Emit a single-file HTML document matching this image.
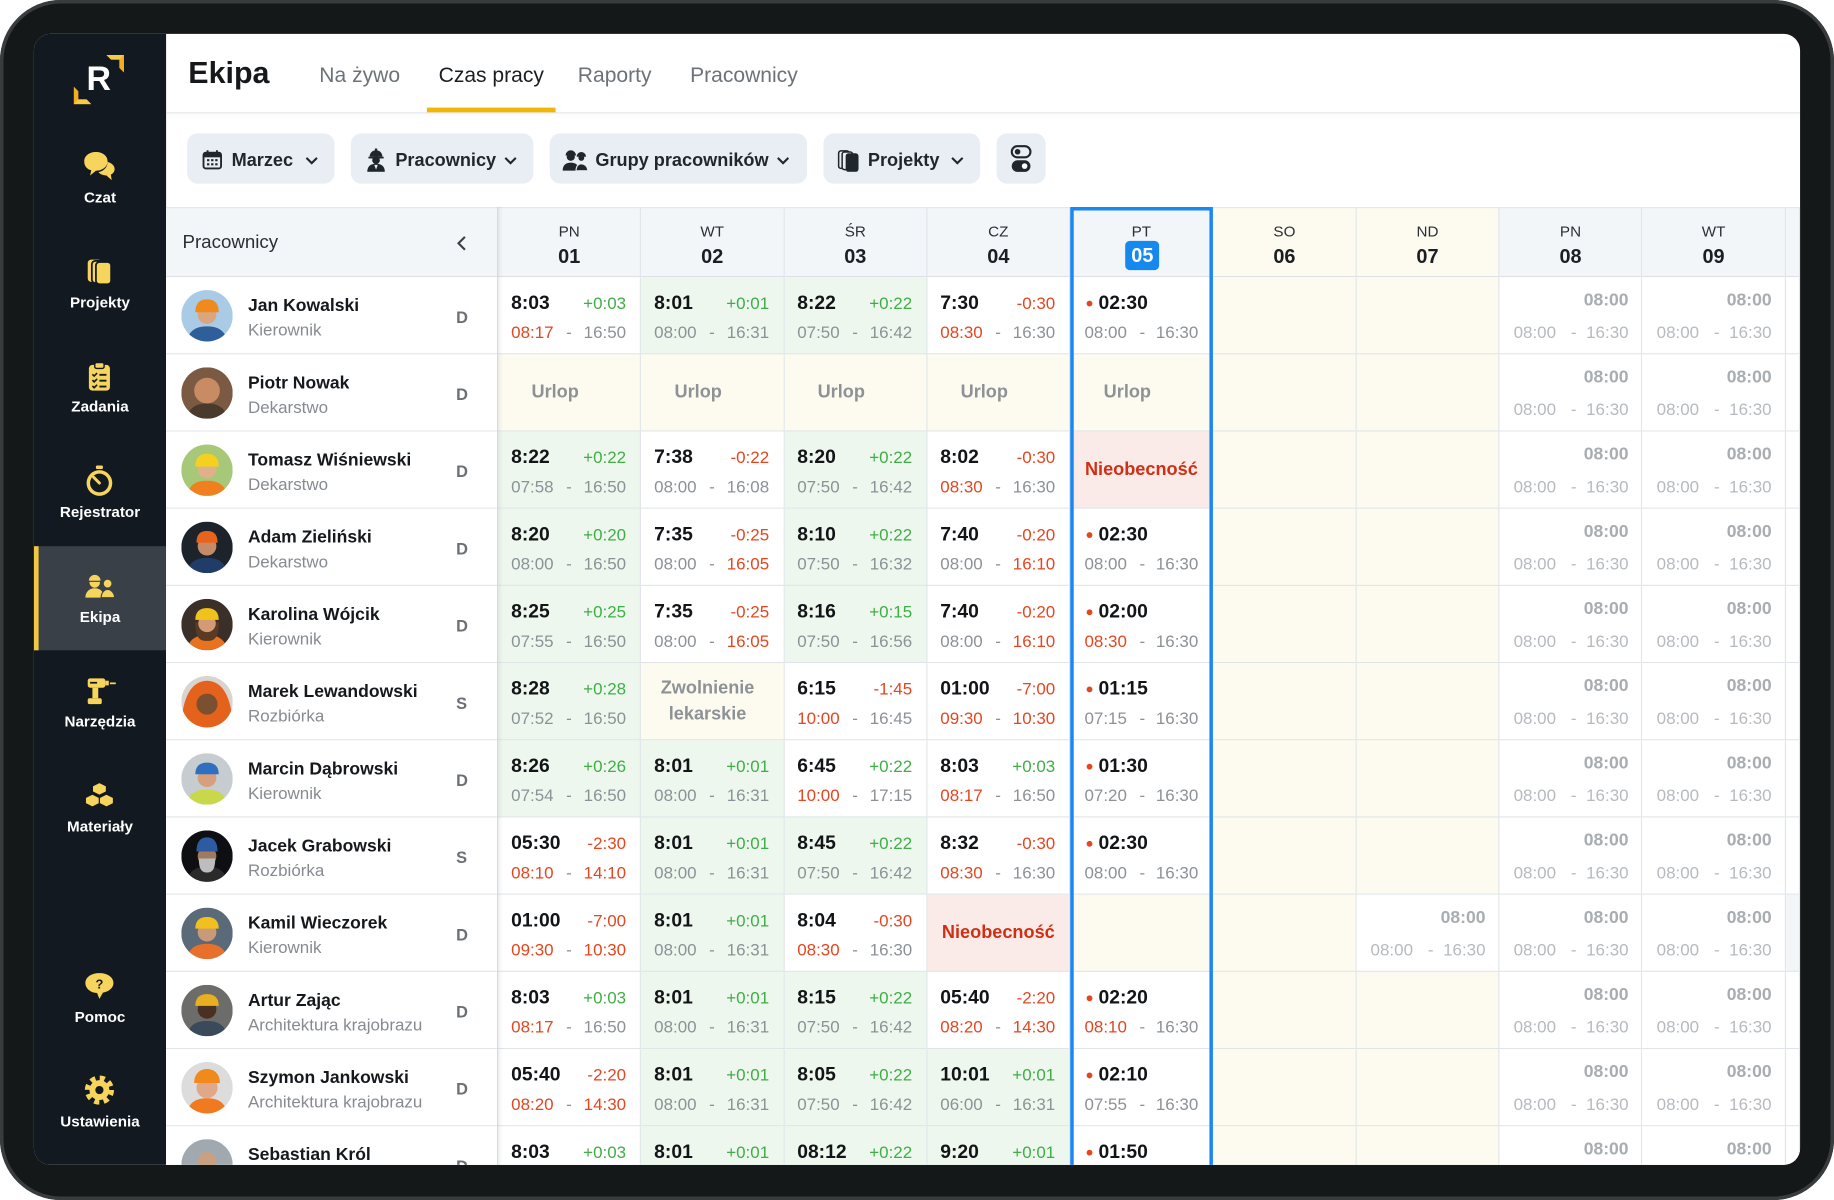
<!DOCTYPE html>
<html><head><meta charset="utf-8">
<style>
*{box-sizing:border-box}
body{margin:0;width:1834px;height:1200px;overflow:hidden;background:#fff;font-family:"Liberation Sans",sans-serif}
#w{position:absolute;left:0;top:0;width:1568px;height:1026px;transform:scale(1.16964,1.16959);transform-origin:0 0}
.ab{position:absolute}
.bz{position:absolute;left:0;top:0;width:1568px;height:1026px;border-radius:52px;background:#151819;box-shadow:inset 0 0 0 3px #383c3f}
.sc{position:absolute;left:29px;top:29px;width:1510px;height:967px;border-radius:14px;overflow:hidden;background:#fff}
.in{position:absolute;left:-29px;top:-29px;width:1568px;height:1026px}
.nl{position:absolute;left:29px;width:113px;text-align:center;color:#fff;font-size:13px;font-weight:700;line-height:16px}
.tab{position:absolute;top:53px;font-size:18px;line-height:22px;color:#6b7379}
.fb{position:absolute;top:114px;height:43px;border-radius:9px;background:#e8eef4}
.ft{position:absolute;top:128px;font-size:15.5px;font-weight:700;line-height:20px;color:#1f262d;white-space:nowrap}
.rw{position:absolute;left:142px;width:1397px;height:66px;display:grid;grid-template-columns:284px repeat(9,122.3px) 12.3px}
.hd{top:177px;height:60px}
.c{position:relative;border-right:1px solid #e1e5ea;border-bottom:1px solid #e1e5ea;background:#fff;overflow:hidden}
.hc{position:relative;border-right:1px solid #e1e5ea;border-bottom:1px solid #dde2e7;border-top:1px solid #e3e7eb;background:#f3f6f9;text-align:center}
.hc .dw{position:absolute;left:0;right:0;top:12px;font-size:13px;line-height:16px;color:#2a2f35}
.hc .dn{position:absolute;left:0;right:0;top:32px;font-size:17px;line-height:20px;font-weight:700;color:#1b1f23}
.g{background:#eef7ee}
.y{background:#fdfbef}
.k{background:#fbebe8}
.x{background:#f3f6f9}
.c b{position:absolute;left:11px;top:12px;font-size:16.5px;line-height:20px;font-weight:700;color:#121417;white-space:nowrap}
.c i{position:absolute;right:12px;top:13px;font-style:normal;font-size:14.5px;line-height:20px;white-space:nowrap}
.p{color:#3fae45}
.m{color:#e4461f}
.c span{position:absolute;top:38px;font-size:14.5px;line-height:20px;color:#8c9197;white-space:nowrap}
.c .a{left:11px}
.c .h{left:58px}
.c .z{right:12px}
.c .r{color:#e4461f}
.f b{left:24px}
.f b:before{content:"";position:absolute;left:-10px;top:8px;width:5px;height:5px;border-radius:50%;background:#e4461f}
.f .a{left:12px}
.f .h{left:59px}
.q i{color:#a8adb2;font-weight:700;top:10px;right:11px;font-size:15px}
.q span{color:#b6babf}
.q .a{left:12px}
.q .h{left:61px}
.q .z{right:11px}
.c em{position:absolute;left:0;right:24px;top:23px;text-align:center;font-style:normal;font-size:15.5px;font-weight:700;line-height:20px;color:#8d9297}
.c em.nb{right:0;color:#cf3015}
.c em.zw{top:11px;line-height:22px;right:8px}
.lc .av{position:absolute;left:13px;top:11px;width:44px;height:44px;border-radius:50%;overflow:hidden}
.av svg{display:block;width:44px;height:44px}
.lc .nm{position:absolute;left:70px;top:16px;font-size:15px;font-weight:700;line-height:18px;color:#15181c;white-space:nowrap}
.lc .rl{position:absolute;left:70px;top:37px;font-size:14.5px;line-height:18px;color:#868b91;white-space:nowrap}
.lc .lt{position:absolute;left:248px;top:25px;font-size:14px;font-weight:700;line-height:18px;color:#6b7077}
</style></head>
<body>
<div id="w">
<div class="bz"></div>
<div class="sc"><div class="in">

<!-- sidebar -->
<div class="ab" style="left:29px;top:29px;width:113px;height:967px;background:#121920"></div>
<div class="ab" style="left:29px;top:467px;width:113px;height:89px;background:#3a4047"></div>
<div class="ab" style="left:29px;top:467px;width:4px;height:89px;background:#f2c744"></div>

<svg class="ab" style="left:91px;top:47px" width="16" height="16" viewBox="0 0 16 16"><path d="M0 0H15V15L11 11V4H4Z" fill="#f2b01e"/><path d="M0 0H15L11 4H4Z" fill="#f7c94a"/></svg>
<svg class="ab" style="left:63px;top:74px" width="16" height="16" viewBox="0 0 16 16"><path d="M0 0L4 4V11H11L15 15H0Z" fill="#f2b01e"/><path d="M4 11H11L15 15H0Z" fill="#f7c94a"/></svg>
<div class="ab" style="left:74px;top:52px;font-size:29px;line-height:33px;font-weight:700;color:#fff">R</div>

<svg class="ab" style="left:71px;top:129px" width="28" height="26" viewBox="0 0 28 26"><path d="M11 1C5 1 1 4.5 1 9s3 7 6 7.6L6 21l5-4c5.5 0 10-3.5 10-8S17 1 11 1z" fill="#f7d45c"/><path d="M21 9.5c3.5.8 6 3.2 6 6 0 2.2-1.3 3.8-3.2 4.8L24.5 25l-4.5-4c-3 0-5.5-1-6.8-2.8 4.5-.8 7.8-4.5 7.8-8.7z" fill="#f7d45c"/></svg>
<div class="nl" style="top:161px">Czat</div>

<svg class="ab" style="left:73px;top:219px" width="24" height="26" viewBox="0 0 24 26"><rect x="2" y="3" width="12" height="19" rx="3" fill="#f7d45c"/><rect x="5.5" y="4" width="12" height="19" rx="3" fill="#f7d45c" stroke="#121920" stroke-width="1.5"/><rect x="9" y="5" width="13" height="19" rx="3" fill="#f7d45c" stroke="#121920" stroke-width="1.5"/></svg>
<div class="nl" style="top:251px">Projekty</div>

<svg class="ab" style="left:73px;top:309px" width="24" height="26" viewBox="0 0 24 26"><rect x="3" y="3" width="18" height="22" rx="3" fill="#f7d45c"/><rect x="8" y="1" width="8" height="5" rx="1.5" fill="#f7d45c" stroke="#121920" stroke-width="1.2"/><path d="M6 11l1.5 1.5L10 10M6 16l1.5 1.5L10 15M6 21l1.5 1.5L10 20" stroke="#121920" stroke-width="1.4" fill="none"/><path d="M12 11.5h6M12 16.5h6M12 21.5h6" stroke="#121920" stroke-width="1.6"/></svg>
<div class="nl" style="top:340px">Zadania</div>

<svg class="ab" style="left:72px;top:398px" width="26" height="27" viewBox="0 0 26 27"><rect x="10" y="0" width="6" height="3" rx="1" fill="#f7d45c"/><circle cx="13" cy="15" r="11" fill="#f7d45c"/><circle cx="13" cy="15" r="8" fill="#121920"/><path d="M13 15L8 10" stroke="#f7d45c" stroke-width="2.5" stroke-linecap="round"/></svg>
<div class="nl" style="top:430px">Rejestrator</div>

<svg class="ab" style="left:72px;top:490px" width="27" height="22" viewBox="0 0 27 22"><circle cx="9" cy="8" r="4.5" fill="#f7d45c"/><path d="M4 6.5a5 5 0 0 1 10 0z" fill="#f7d45c"/><path d="M4 7h10" stroke="#3a4047" stroke-width="1"/><path d="M1 21c0-5 3.5-8 8-8s8 3 8 8z" fill="#f7d45c"/><circle cx="20" cy="9" r="3.8" fill="#f7d45c" stroke="#3a4047" stroke-width="1"/><path d="M14.5 21c0-4 2.5-7 5.5-7s6 3 6 7z" fill="#f7d45c" stroke="#3a4047" stroke-width="1"/></svg>
<div class="nl" style="top:520px">Ekipa</div>

<svg class="ab" style="left:72px;top:578px" width="28" height="26" viewBox="0 0 28 26"><rect x="3" y="2" width="15" height="8" rx="2" fill="#f7d45c"/><rect x="18" y="4" width="3" height="4" fill="#f7d45c"/><rect x="22" y="5.5" width="5" height="1.5" fill="#f7d45c"/><rect x="7" y="10" width="5" height="9" fill="#f7d45c"/><rect x="3" y="19" width="12" height="5" rx="1.5" fill="#f7d45c"/><rect x="5" y="5" width="6" height="1.5" fill="#121920"/></svg>
<div class="nl" style="top:609px">Narzędzia</div>

<svg class="ab" style="left:72px;top:668px" width="26" height="24" viewBox="0 0 26 24"><path d="M13 1l6 3v5l-6 3-6-3V4z" fill="#f7d45c" stroke="#121920" stroke-width="1"/><path d="M7 11l6 3v5l-6 3-6-3v-5z" fill="#f7d45c" stroke="#121920" stroke-width="1"/><path d="M19 11l6 3v5l-6 3-6-3v-5z" fill="#f7d45c" stroke="#121920" stroke-width="1"/></svg>
<div class="nl" style="top:699px">Materiały</div>

<svg class="ab" style="left:72px;top:831px" width="26" height="24" viewBox="0 0 26 24"><path d="M13 1C6 1 1 4.5 1 9.5S6 18 11 18l2 5 3-5.3c5-.8 9-4 9-8.2C25 4.5 20 1 13 1z" fill="#f7d45c"/><text x="13" y="14" font-size="11" font-weight="700" text-anchor="middle" fill="#121920" font-family="Liberation Sans">?</text></svg>
<div class="nl" style="top:862px">Pomoc</div>

<svg class="ab" style="left:72px;top:919px" width="26" height="26" viewBox="0 0 26 26"><circle cx="13" cy="13" r="10" fill="none" stroke="#f7d45c" stroke-width="5" stroke-dasharray="4.2 3.65"/><circle cx="13" cy="13" r="8.5" fill="#f7d45c"/><circle cx="13" cy="13" r="3.5" fill="#121920"/></svg>
<div class="nl" style="top:951px">Ustawienia</div>

<!-- header -->
<div class="ab" style="left:161px;top:46px;font-size:26px;line-height:32px;font-weight:700;color:#16191c">Ekipa</div>
<div class="tab" style="left:273px">Na żywo</div>
<div class="tab" style="left:375px;color:#1a1e22">Czas pracy</div>
<div class="tab" style="left:494px">Raporty</div>
<div class="tab" style="left:590px">Pracownicy</div>
<div class="ab" style="left:142px;top:96px;width:1397px;height:1px;background:#e3e6e9;box-shadow:0 2px 4px rgba(0,0,0,.06)"></div>
<div class="ab" style="left:365px;top:92px;width:110px;height:4px;background:#f2b705"></div>

<!-- filters -->
<div class="fb" style="left:160px;width:126px"></div>
<svg class="ab" style="left:173px;top:128px" width="17" height="17" viewBox="0 0 17 17"><rect x="1" y="2.5" width="15" height="13.5" rx="2" fill="none" stroke="#20262d" stroke-width="1.6"/><rect x="1" y="2.5" width="15" height="4" fill="#20262d"/><path d="M4.5 0.5v3M12.5 0.5v3" stroke="#20262d" stroke-width="1.6"/><path d="M4 9h2M7.5 9h2M11 9h2M4 12.5h2M7.5 12.5h2M11 12.5h2" stroke="#20262d" stroke-width="1.8"/></svg>
<div class="ft" style="left:198px">Marzec</div>
<svg class="ab" style="left:261px;top:134px" width="11" height="7" viewBox="0 0 11 7"><path d="M1 1l4.5 4.5L10 1" stroke="#20262d" stroke-width="1.8" fill="none"/></svg>

<div class="fb" style="left:300px;width:156px"></div>
<svg class="ab" style="left:313px;top:127px" width="17" height="20" viewBox="0 0 17 20"><path d="M3 7a5.5 5.5 0 0 1 11 0z" fill="#20262d"/><rect x="7.5" y="0" width="2" height="3" fill="#20262d"/><rect x="2" y="7" width="13" height="1.5" fill="#20262d"/><circle cx="8.5" cy="10" r="3.3" fill="#20262d"/><path d="M1 20c0-5 3-7 7.5-7s7.5 2 7.5 7z" fill="#20262d"/><path d="M7 14l1.5 4 1.5-4z" fill="#e8eef4"/></svg>
<div class="ft" style="left:338px">Pracownicy</div>
<svg class="ab" style="left:431px;top:134px" width="11" height="7" viewBox="0 0 11 7"><path d="M1 1l4.5 4.5L10 1" stroke="#20262d" stroke-width="1.8" fill="none"/></svg>

<div class="fb" style="left:470px;width:220px"></div>
<svg class="ab" style="left:481px;top:128px" width="22" height="18" viewBox="0 0 22 18"><circle cx="7" cy="6" r="3.5" fill="#20262d"/><path d="M2.5 5a4.5 4.5 0 0 1 9 0z" fill="#20262d"/><path d="M0 18c0-5 3-7 7-7s7 2 7 7z" fill="#20262d"/><circle cx="16" cy="7" r="3" fill="#20262d" stroke="#e8eef4" stroke-width="1"/><path d="M12 6a4 4 0 0 1 8 0z" fill="#20262d"/><path d="M11.5 18c0-4 2-6 4.5-6s5.5 2 5.5 6z" fill="#20262d" stroke="#e8eef4" stroke-width="1"/></svg>
<div class="ft" style="left:509px">Grupy pracowników</div>
<svg class="ab" style="left:664px;top:134px" width="11" height="7" viewBox="0 0 11 7"><path d="M1 1l4.5 4.5L10 1" stroke="#20262d" stroke-width="1.8" fill="none"/></svg>

<div class="fb" style="left:704px;width:134px"></div>
<svg class="ab" style="left:716px;top:128px" width="19" height="19" viewBox="0 0 19 19"><rect x="1" y="1" width="9" height="15" rx="2" fill="none" stroke="#20262d" stroke-width="1.3"/><rect x="4" y="2" width="9" height="15" rx="2" fill="#e8eef4" stroke="#20262d" stroke-width="1.3"/><rect x="7" y="3" width="11" height="16" rx="2.5" fill="#20262d"/></svg>
<div class="ft" style="left:742px">Projekty</div>
<svg class="ab" style="left:813px;top:134px" width="11" height="7" viewBox="0 0 11 7"><path d="M1 1l4.5 4.5L10 1" stroke="#20262d" stroke-width="1.8" fill="none"/></svg>

<div class="fb" style="left:852px;width:42px"></div>
<svg class="ab" style="left:864px;top:124px" width="18" height="24" viewBox="0 0 18 24"><rect x="1" y="1" width="16" height="9.5" rx="4.75" fill="none" stroke="#20262d" stroke-width="1.8"/><circle cx="6" cy="5.75" r="2.4" fill="#20262d"/><rect x="1" y="13" width="16" height="10" rx="5" fill="#20262d"/><circle cx="12" cy="18" r="2.4" fill="#fff"/></svg>

<!-- table header -->
<div class="rw hd">
<div class="hc" style="text-align:left"><div class="ab" style="left:14px;top:20px;font-size:16px;line-height:20px;color:#2a2f35">Pracownicy</div><svg class="ab" style="left:248px;top:23px" width="9" height="14" viewBox="0 0 9 14"><path d="M7.5 1.5L2 7l5.5 5.5" stroke="#3a3f45" stroke-width="1.8" fill="none"/></svg></div>
<div class="hc"><div class="dw">PN</div><div class="dn">01</div></div>
<div class="hc"><div class="dw">WT</div><div class="dn">02</div></div>
<div class="hc"><div class="dw">ŚR</div><div class="dn">03</div></div>
<div class="hc"><div class="dw">CZ</div><div class="dn">04</div></div>
<div class="hc"><div class="dw">PT</div><div class="ab" style="left:47px;top:28px;width:29px;height:25px;border-radius:4px;background:#1589ee;color:#fff;font-size:17px;font-weight:700;line-height:25px;text-align:center">05</div></div>
<div class="hc" style="background:#fdfbef"><div class="dw">SO</div><div class="dn">06</div></div>
<div class="hc" style="background:#fdfbef"><div class="dw">ND</div><div class="dn">07</div></div>
<div class="hc"><div class="dw">PN</div><div class="dn">08</div></div>
<div class="hc"><div class="dw">WT</div><div class="dn">09</div></div>
<div class="hc"></div>
</div>

<!-- row 1 -->
<div class="rw" style="top:237px">
<div class="c lc"><div class="av"><svg viewBox="0 0 44 44"><rect width="44" height="44" fill="#a9cbe6"/><path d="M4 46C6 34 13 31 22 31S38 34 40 46Z" fill="#2f5f9a"/><circle cx="22" cy="21" r="8" fill="#d9a67f"/><path d="M12 19C12 10 17 8 22 8S32 10 32 19Z" fill="#f08a1c"/></svg></div><div class="nm">Jan Kowalski</div><div class="rl">Kierownik</div><div class="lt">D</div></div>
<div class="c"><b>8:03</b><i class="p">+0:03</i><span class="a r">08:17</span><span class="h">-</span><span class="z">16:50</span></div>
<div class="c g"><b>8:01</b><i class="p">+0:01</i><span class="a">08:00</span><span class="h">-</span><span class="z">16:31</span></div>
<div class="c g"><b>8:22</b><i class="p">+0:22</i><span class="a">07:50</span><span class="h">-</span><span class="z">16:42</span></div>
<div class="c"><b>7:30</b><i class="m">-0:30</i><span class="a r">08:30</span><span class="h">-</span><span class="z">16:30</span></div>
<div class="c f"><b>02:30</b><span class="a">08:00</span><span class="h">-</span><span class="z">16:30</span></div>
<div class="c y"></div><div class="c y"></div>
<div class="c q"><i>08:00</i><span class="a">08:00</span><span class="h">-</span><span class="z">16:30</span></div>
<div class="c q"><i>08:00</i><span class="a">08:00</span><span class="h">-</span><span class="z">16:30</span></div>
<div class="c"></div>
</div>

<!-- row 2 -->
<div class="rw" style="top:303px">
<div class="c lc"><div class="av"><svg viewBox="0 0 44 44"><rect width="44" height="44" fill="#7a5a42"/><path d="M4 46C6 34 13 31 22 31S38 34 40 46Z" fill="#4a3a2e"/><circle cx="22" cy="20" r="11" fill="#c98b63"/></svg></div><div class="nm">Piotr Nowak</div><div class="rl">Dekarstwo</div><div class="lt">D</div></div>
<div class="c y"><em>Urlop</em></div>
<div class="c y"><em>Urlop</em></div>
<div class="c y"><em>Urlop</em></div>
<div class="c y"><em>Urlop</em></div>
<div class="c y"><em>Urlop</em></div>
<div class="c y"></div><div class="c y"></div>
<div class="c q"><i>08:00</i><span class="a">08:00</span><span class="h">-</span><span class="z">16:30</span></div>
<div class="c q"><i>08:00</i><span class="a">08:00</span><span class="h">-</span><span class="z">16:30</span></div>
<div class="c"></div>
</div>

<!-- row 3 -->
<div class="rw" style="top:369px">
<div class="c lc"><div class="av"><svg viewBox="0 0 44 44"><rect width="44" height="44" fill="#a6c878"/><path d="M4 46C6 34 13 31 22 31S38 34 40 46Z" fill="#f07f1e"/><circle cx="22" cy="21" r="8" fill="#e0b08a"/><path d="M12 19C12 10 17 8 22 8S32 10 32 19Z" fill="#f4d020"/></svg></div><div class="nm">Tomasz Wiśniewski</div><div class="rl">Dekarstwo</div><div class="lt">D</div></div>
<div class="c g"><b>8:22</b><i class="p">+0:22</i><span class="a">07:58</span><span class="h">-</span><span class="z">16:50</span></div>
<div class="c"><b>7:38</b><i class="m">-0:22</i><span class="a">08:00</span><span class="h">-</span><span class="z">16:08</span></div>
<div class="c g"><b>8:20</b><i class="p">+0:22</i><span class="a">07:50</span><span class="h">-</span><span class="z">16:42</span></div>
<div class="c"><b>8:02</b><i class="m">-0:30</i><span class="a r">08:30</span><span class="h">-</span><span class="z">16:30</span></div>
<div class="c k"><em class="nb">Nieobecność</em></div>
<div class="c y"></div><div class="c y"></div>
<div class="c q"><i>08:00</i><span class="a">08:00</span><span class="h">-</span><span class="z">16:30</span></div>
<div class="c q"><i>08:00</i><span class="a">08:00</span><span class="h">-</span><span class="z">16:30</span></div>
<div class="c"></div>
</div>

<!-- row 4 -->
<div class="rw" style="top:435px">
<div class="c lc"><div class="av"><svg viewBox="0 0 44 44"><rect width="44" height="44" fill="#1c232b"/><path d="M4 46C6 34 13 31 22 31S38 34 40 46Z" fill="#1f3d66"/><circle cx="22" cy="21" r="8" fill="#c48b66"/><path d="M13 18C13 10 17 8 22 8S31 10 31 18Z" fill="#e8641e"/></svg></div><div class="nm">Adam Zieliński</div><div class="rl">Dekarstwo</div><div class="lt">D</div></div>
<div class="c g"><b>8:20</b><i class="p">+0:20</i><span class="a">08:00</span><span class="h">-</span><span class="z">16:50</span></div>
<div class="c"><b>7:35</b><i class="m">-0:25</i><span class="a">08:00</span><span class="h">-</span><span class="z r">16:05</span></div>
<div class="c g"><b>8:10</b><i class="p">+0:22</i><span class="a">07:50</span><span class="h">-</span><span class="z">16:32</span></div>
<div class="c"><b>7:40</b><i class="m">-0:20</i><span class="a">08:00</span><span class="h">-</span><span class="z r">16:10</span></div>
<div class="c f"><b>02:30</b><span class="a">08:00</span><span class="h">-</span><span class="z">16:30</span></div>
<div class="c y"></div><div class="c y"></div>
<div class="c q"><i>08:00</i><span class="a">08:00</span><span class="h">-</span><span class="z">16:30</span></div>
<div class="c q"><i>08:00</i><span class="a">08:00</span><span class="h">-</span><span class="z">16:30</span></div>
<div class="c"></div>
</div>

<!-- row 5 -->
<div class="rw" style="top:501px">
<div class="c lc"><div class="av"><svg viewBox="0 0 44 44"><rect width="44" height="44" fill="#3b3029"/><path d="M4 46C6 34 13 31 22 31S38 34 40 46Z" fill="#e8721e"/><path d="M12 20C12 34 16 36 22 36S32 34 32 20Z" fill="#5a3a22"/><circle cx="22" cy="21" r="7.5" fill="#d29a75"/><path d="M12 18C12 10 17 8 22 8S32 10 32 18Z" fill="#f2c21c"/></svg></div><div class="nm">Karolina Wójcik</div><div class="rl">Kierownik</div><div class="lt">D</div></div>
<div class="c g"><b>8:25</b><i class="p">+0:25</i><span class="a">07:55</span><span class="h">-</span><span class="z">16:50</span></div>
<div class="c"><b>7:35</b><i class="m">-0:25</i><span class="a">08:00</span><span class="h">-</span><span class="z r">16:05</span></div>
<div class="c g"><b>8:16</b><i class="p">+0:15</i><span class="a">07:50</span><span class="h">-</span><span class="z">16:56</span></div>
<div class="c"><b>7:40</b><i class="m">-0:20</i><span class="a">08:00</span><span class="h">-</span><span class="z r">16:10</span></div>
<div class="c f"><b>02:00</b><span class="a r">08:30</span><span class="h">-</span><span class="z">16:30</span></div>
<div class="c y"></div><div class="c y"></div>
<div class="c q"><i>08:00</i><span class="a">08:00</span><span class="h">-</span><span class="z">16:30</span></div>
<div class="c q"><i>08:00</i><span class="a">08:00</span><span class="h">-</span><span class="z">16:30</span></div>
<div class="c"></div>
</div>

<!-- row 6 -->
<div class="rw" style="top:567px">
<div class="c lc"><div class="av"><svg viewBox="0 0 44 44"><rect width="44" height="44" fill="#d9d4cf"/><path d="M0 46C0 20 8 4 22 4S44 20 44 46Z" fill="#e5621c"/><circle cx="22" cy="24" r="9" fill="#7a5030"/></svg></div><div class="nm">Marek Lewandowski</div><div class="rl">Rozbiórka</div><div class="lt">S</div></div>
<div class="c g"><b>8:28</b><i class="p">+0:28</i><span class="a">07:52</span><span class="h">-</span><span class="z">16:50</span></div>
<div class="c y"><em class="zw">Zwolnienie<br>lekarskie</em></div>
<div class="c"><b>6:15</b><i class="m">-1:45</i><span class="a r">10:00</span><span class="h">-</span><span class="z">16:45</span></div>
<div class="c"><b>01:00</b><i class="m">-7:00</i><span class="a r">09:30</span><span class="h">-</span><span class="z r">10:30</span></div>
<div class="c f"><b>01:15</b><span class="a">07:15</span><span class="h">-</span><span class="z">16:30</span></div>
<div class="c y"></div><div class="c y"></div>
<div class="c q"><i>08:00</i><span class="a">08:00</span><span class="h">-</span><span class="z">16:30</span></div>
<div class="c q"><i>08:00</i><span class="a">08:00</span><span class="h">-</span><span class="z">16:30</span></div>
<div class="c"></div>
</div>

<!-- row 7 -->
<div class="rw" style="top:633px">
<div class="c lc"><div class="av"><svg viewBox="0 0 44 44"><rect width="44" height="44" fill="#c7ccd1"/><path d="M4 46C6 34 13 31 22 31S38 34 40 46Z" fill="#c8d84a"/><circle cx="22" cy="21" r="8" fill="#d6a07e"/><path d="M12 18C12 10 17 8 22 8S32 10 32 18Z" fill="#2f6fc0"/></svg></div><div class="nm">Marcin Dąbrowski</div><div class="rl">Kierownik</div><div class="lt">D</div></div>
<div class="c g"><b>8:26</b><i class="p">+0:26</i><span class="a">07:54</span><span class="h">-</span><span class="z">16:50</span></div>
<div class="c g"><b>8:01</b><i class="p">+0:01</i><span class="a">08:00</span><span class="h">-</span><span class="z">16:31</span></div>
<div class="c"><b>6:45</b><i class="p">+0:22</i><span class="a r">10:00</span><span class="h">-</span><span class="z">17:15</span></div>
<div class="c"><b>8:03</b><i class="p">+0:03</i><span class="a r">08:17</span><span class="h">-</span><span class="z">16:50</span></div>
<div class="c f"><b>01:30</b><span class="a">07:20</span><span class="h">-</span><span class="z">16:30</span></div>
<div class="c y"></div><div class="c y"></div>
<div class="c q"><i>08:00</i><span class="a">08:00</span><span class="h">-</span><span class="z">16:30</span></div>
<div class="c q"><i>08:00</i><span class="a">08:00</span><span class="h">-</span><span class="z">16:30</span></div>
<div class="c"></div>
</div>

<!-- row 8 -->
<div class="rw" style="top:699px">
<div class="c lc"><div class="av"><svg viewBox="0 0 44 44"><rect width="44" height="44" fill="#0d0f12"/><path d="M4 46C6 34 13 31 22 31S38 34 40 46Z" fill="#2a2a2a"/><circle cx="22" cy="22" r="8" fill="#a07a60"/><path d="M15 24C15 34 18 36 22 36S29 34 29 24Z" fill="#bdbdbd"/><path d="M13 18C13 9 17 6 22 6S31 9 31 18Z" fill="#2d5aa0"/></svg></div><div class="nm">Jacek Grabowski</div><div class="rl">Rozbiórka</div><div class="lt">S</div></div>
<div class="c"><b>05:30</b><i class="m">-2:30</i><span class="a r">08:10</span><span class="h">-</span><span class="z r">14:10</span></div>
<div class="c g"><b>8:01</b><i class="p">+0:01</i><span class="a">08:00</span><span class="h">-</span><span class="z">16:31</span></div>
<div class="c g"><b>8:45</b><i class="p">+0:22</i><span class="a">07:50</span><span class="h">-</span><span class="z">16:42</span></div>
<div class="c"><b>8:32</b><i class="m">-0:30</i><span class="a r">08:30</span><span class="h">-</span><span class="z">16:30</span></div>
<div class="c f"><b>02:30</b><span class="a">08:00</span><span class="h">-</span><span class="z">16:30</span></div>
<div class="c y"></div><div class="c y"></div>
<div class="c q"><i>08:00</i><span class="a">08:00</span><span class="h">-</span><span class="z">16:30</span></div>
<div class="c q"><i>08:00</i><span class="a">08:00</span><span class="h">-</span><span class="z">16:30</span></div>
<div class="c"></div>
</div>

<!-- row 9 -->
<div class="rw" style="top:765px">
<div class="c lc"><div class="av"><svg viewBox="0 0 44 44"><rect width="44" height="44" fill="#5b6a78"/><path d="M4 46C6 34 13 31 22 31S38 34 40 46Z" fill="#e8702a"/><circle cx="22" cy="21" r="8" fill="#c99a7a"/><path d="M12 18C12 10 17 8 22 8S32 10 32 18Z" fill="#f2c01e"/></svg></div><div class="nm">Kamil Wieczorek</div><div class="rl">Kierownik</div><div class="lt">D</div></div>
<div class="c"><b>01:00</b><i class="m">-7:00</i><span class="a r">09:30</span><span class="h">-</span><span class="z r">10:30</span></div>
<div class="c g"><b>8:01</b><i class="p">+0:01</i><span class="a">08:00</span><span class="h">-</span><span class="z">16:31</span></div>
<div class="c"><b>8:04</b><i class="m">-0:30</i><span class="a r">08:30</span><span class="h">-</span><span class="z">16:30</span></div>
<div class="c k"><em class="nb">Nieobecność</em></div>
<div class="c y"></div>
<div class="c y"></div>
<div class="c q"><i>08:00</i><span class="a">08:00</span><span class="h">-</span><span class="z">16:30</span></div>
<div class="c q"><i>08:00</i><span class="a">08:00</span><span class="h">-</span><span class="z">16:30</span></div>
<div class="c q"><i>08:00</i><span class="a">08:00</span><span class="h">-</span><span class="z">16:30</span></div>
<div class="c x"></div>
</div>

<!-- row 10 -->
<div class="rw" style="top:831px">
<div class="c lc"><div class="av"><svg viewBox="0 0 44 44"><rect width="44" height="44" fill="#6c6c6a"/><path d="M4 46C6 34 13 31 22 31S38 34 40 46Z" fill="#3a4a5a"/><circle cx="22" cy="21" r="8" fill="#4a3020"/><path d="M12 18C12 10 17 8 22 8S32 10 32 18Z" fill="#e8b020"/></svg></div><div class="nm">Artur Zając</div><div class="rl">Architektura krajobrazu</div><div class="lt">D</div></div>
<div class="c"><b>8:03</b><i class="p">+0:03</i><span class="a r">08:17</span><span class="h">-</span><span class="z">16:50</span></div>
<div class="c g"><b>8:01</b><i class="p">+0:01</i><span class="a">08:00</span><span class="h">-</span><span class="z">16:31</span></div>
<div class="c g"><b>8:15</b><i class="p">+0:22</i><span class="a">07:50</span><span class="h">-</span><span class="z">16:42</span></div>
<div class="c"><b>05:40</b><i class="m">-2:20</i><span class="a r">08:20</span><span class="h">-</span><span class="z r">14:30</span></div>
<div class="c f"><b>02:20</b><span class="a r">08:10</span><span class="h">-</span><span class="z">16:30</span></div>
<div class="c y"></div><div class="c y"></div>
<div class="c q"><i>08:00</i><span class="a">08:00</span><span class="h">-</span><span class="z">16:30</span></div>
<div class="c q"><i>08:00</i><span class="a">08:00</span><span class="h">-</span><span class="z">16:30</span></div>
<div class="c"></div>
</div>

<!-- row 11 -->
<div class="rw" style="top:897px">
<div class="c lc"><div class="av"><svg viewBox="0 0 44 44"><rect width="44" height="44" fill="#dcdcdc"/><path d="M4 46C6 34 13 31 22 31S38 34 40 46Z" fill="#f07a20"/><circle cx="22" cy="22" r="9" fill="#e0a888"/><path d="M11 18C11 9 17 6 22 6S33 9 33 18Z" fill="#f08a1c"/></svg></div><div class="nm">Szymon Jankowski</div><div class="rl">Architektura krajobrazu</div><div class="lt">D</div></div>
<div class="c"><b>05:40</b><i class="m">-2:20</i><span class="a r">08:20</span><span class="h">-</span><span class="z r">14:30</span></div>
<div class="c g"><b>8:01</b><i class="p">+0:01</i><span class="a">08:00</span><span class="h">-</span><span class="z">16:31</span></div>
<div class="c g"><b>8:05</b><i class="p">+0:22</i><span class="a">07:50</span><span class="h">-</span><span class="z">16:42</span></div>
<div class="c g"><b>10:01</b><i class="p">+0:01</i><span class="a">06:00</span><span class="h">-</span><span class="z">16:31</span></div>
<div class="c f"><b>02:10</b><span class="a">07:55</span><span class="h">-</span><span class="z">16:30</span></div>
<div class="c y"></div><div class="c y"></div>
<div class="c q"><i>08:00</i><span class="a">08:00</span><span class="h">-</span><span class="z">16:30</span></div>
<div class="c q"><i>08:00</i><span class="a">08:00</span><span class="h">-</span><span class="z">16:30</span></div>
<div class="c"></div>
</div>

<!-- row 12 -->
<div class="rw" style="top:963px">
<div class="c lc"><div class="av"><svg viewBox="0 0 44 44"><rect width="44" height="44" fill="#a0a8b0"/><path d="M4 46C6 34 13 31 22 31S38 34 40 46Z" fill="#1e2a4a"/><circle cx="22" cy="19" r="8" fill="#c9a080"/></svg></div><div class="nm">Sebastian Król</div><div class="rl">Dekarstwo</div><div class="lt">D</div></div>
<div class="c"><b>8:03</b><i class="p">+0:03</i><span class="a r">08:17</span><span class="h">-</span><span class="z">16:50</span></div>
<div class="c g"><b>8:01</b><i class="p">+0:01</i><span class="a">08:00</span><span class="h">-</span><span class="z">16:31</span></div>
<div class="c g"><b>08:12</b><i class="p">+0:22</i><span class="a">07:50</span><span class="h">-</span><span class="z">16:42</span></div>
<div class="c g"><b>9:20</b><i class="p">+0:01</i><span class="a">06:00</span><span class="h">-</span><span class="z">16:31</span></div>
<div class="c f"><b>01:50</b><span class="a">07:55</span><span class="h">-</span><span class="z">16:30</span></div>
<div class="c y"></div><div class="c y"></div>
<div class="c q"><i>08:00</i><span class="a">08:00</span><span class="h">-</span><span class="z">16:30</span></div>
<div class="c q"><i>08:00</i><span class="a">08:00</span><span class="h">-</span><span class="z">16:30</span></div>
<div class="c"></div>
</div>

<!-- left column shadow -->
<div class="ab" style="left:425px;top:177px;width:5px;height:830px;background:linear-gradient(to right,rgba(0,0,0,.07),rgba(0,0,0,0))"></div>
<!-- today column highlight -->
<div class="ab" style="left:915px;top:177px;width:122px;height:830px;border:3px solid #1a87f3"></div>

</div></div>
</div>
</body></html>
